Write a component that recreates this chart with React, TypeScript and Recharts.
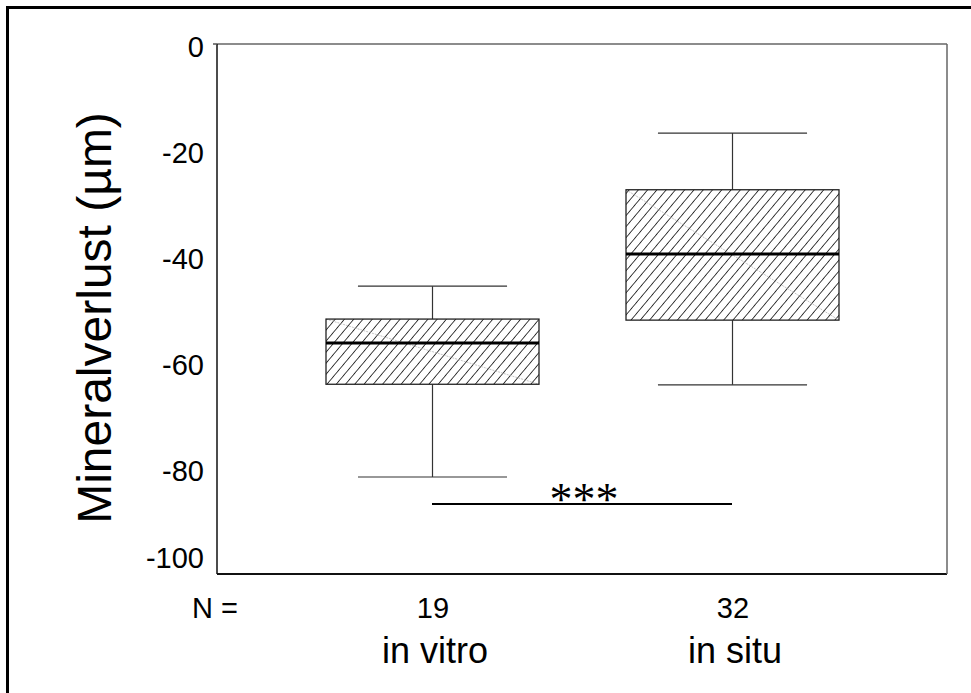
import React from 'react';
import {
  ComposedChart,
  Bar,
  XAxis,
  YAxis,
  ReferenceLine,
} from 'recharts';

// Box plot values (µm)
const categories = ['in vitro', 'in situ'];
const nCounts = [19, 32];
const whiskerLow = [-81.7, -64.3];
const quartile1 = [-64.2, -52.1];
const medians = [-56.4, -39.6];
const quartile3 = [-51.9, -27.5];
const whiskerHigh = [-45.7, -16.8];
const yTicks = [0, -20, -40, -60, -80, -100];
const sigLevel = -86.8;
const sigLabel = '***';

const chartData = categories.map((name, i) => ({
  name,
  n: nCounts[i],
  low: whiskerLow[i],
  q1: quartile1[i],
  median: medians[i],
  q3: quartile3[i],
  high: whiskerHigh[i],
  range: [whiskerLow[i], whiskerHigh[i]],
}));

const FONT = '"Liberation Sans", Arial, sans-serif';

const BoxShape = (props: any) => {
  const { x, y, width, height, payload, index } = props;
  const top = Math.min(y, y + height);
  const bot = Math.max(y, y + height);
  const { low, high, q1, q3, median } = payload;
  // map a value into the pixel span the bar got from the y scale
  const toY = (v: number) => top + ((high - v) / (high - low)) * (bot - top);
  const cx = x + width / 2;
  const capW = width * 0.7;
  const boxTop = toY(q3);
  const boxBot = toY(q1);
  const pid = `hatch-${index}`;
  return (
    <g>
      <defs>
        <pattern id={pid} width={7.1} height={7.1} patternUnits="userSpaceOnUse" patternTransform="rotate(40)">
          <line x1={0} y1={0} x2={0} y2={7.1} stroke="#222" strokeWidth={1.7} />
        </pattern>
      </defs>
      {/* whiskers */}
      <line x1={cx} y1={toY(high)} x2={cx} y2={boxTop} stroke="#333" strokeWidth={1.2} />
      <line x1={cx} y1={boxBot} x2={cx} y2={toY(low)} stroke="#333" strokeWidth={1.2} />
      <line x1={cx - capW / 2} y1={toY(high)} x2={cx + capW / 2} y2={toY(high)} stroke="#333" strokeWidth={1.2} />
      <line x1={cx - capW / 2} y1={toY(low)} x2={cx + capW / 2} y2={toY(low)} stroke="#333" strokeWidth={1.2} />
      {/* box */}
      <rect x={x} y={boxTop} width={width} height={boxBot - boxTop} fill="#fff" />
      <rect x={x} y={boxTop} width={width} height={boxBot - boxTop} fill={`url(#${pid})`} />
      <line x1={x} y1={boxTop} x2={x + width} y2={boxBot} stroke="#aaa" strokeWidth={0.7} strokeDasharray="2 1" />
      <rect x={x} y={boxTop} width={width} height={boxBot - boxTop} fill="none" stroke="#222" strokeWidth={1.3} />
      <line x1={x} y1={toY(median)} x2={x + width} y2={toY(median)} stroke="#000" strokeWidth={3} />
    </g>
  );
};

const YTick = (props: any) => {
  const { x, y, payload } = props;
  const v = payload.value;
  // bottom label is lifted so it stays above the axis end
  const baseY = v === -100 ? y - 6 : y + 13;
  return (
    <g>
      {v === 0 && <line x1={x - 4} y1={y} x2={x} y2={y} stroke="#555" strokeWidth={1.5} />}
      <text x={x - 13} y={baseY} textAnchor="end" fontFamily={FONT} fontSize={29} fill="#000">
        {v}
      </text>
    </g>
  );
};

const XTick = (props: any) => {
  const { x, y, payload, index } = props;
  return (
    <g>
      <text x={x + 1} y={y + 44} textAnchor="middle" fontFamily={FONT} fontSize={29} fill="#000">
        {nCounts[index]}
      </text>
      <text x={x + 3} y={y + 89} textAnchor="middle" fontFamily={FONT} fontSize={36} fill="#000">
        {payload.value}
      </text>
    </g>
  );
};

const App: React.FC = () => {
  return (
    <div style={{ position: 'absolute', left: 0, top: 0, width: 971, height: 693, overflow: 'hidden', background: '#fff' }}>
      <div
        style={{
          position: 'absolute',
          left: 6,
          top: 6,
          width: 1000,
          height: 720,
          borderLeft: '3px solid #000',
          borderTop: '3px solid #000',
        }}
      />
      <div style={{ position: 'absolute', left: 0, top: 0 }}>
        <ComposedChart
          width={971}
          height={693}
          data={chartData}
          margin={{ top: 43, right: 23, bottom: 0, left: 0 }}
        >
          <XAxis
            dataKey="name"
            type="category"
            padding={{ left: 65, right: 65 }}
            height={119}
            axisLine={{ stroke: '#111', strokeWidth: 2 }}
            tickLine={false}
            tickSize={0}
            tickMargin={0}
            tick={<XTick />}
            interval={0}
            label={{
              content: (p: any) => (
                <text
                  x={p.viewBox.x - 2}
                  y={p.viewBox.y + 44}
                  textAnchor="middle"
                  fontFamily={FONT}
                  fontSize={29}
                  fill="#000"
                >
                  N =
                </text>
              ),
            }}
          />
          {/* gray top and right frame lines */}
          <XAxis
            xAxisId="top"
            orientation="top"
            dataKey="name"
            height={1}
            tick={false}
            tickLine={false}
            axisLine={{ stroke: '#666', strokeWidth: 1.5 }}
          />
          <YAxis
            type="number"
            domain={[-100, 0]}
            ticks={yTicks}
            width={217}
            axisLine={{ stroke: '#111', strokeWidth: 1.5 }}
            tickLine={false}
            tickSize={0}
            tickMargin={0}
            tick={<YTick />}
            interval={0}
            label={{
              content: (p: any) => {
                const cy = p.viewBox.y + p.viewBox.height / 2 + 9;
                return (
                  <text
                    x={111}
                    y={cy}
                    transform={`rotate(-90, 111, ${cy})`}
                    textAnchor="middle"
                    fontFamily={FONT}
                    fontSize={48}
                    fill="#000"
                  >
                    Mineralverlust (µm)
                  </text>
                );
              },
            }}
          />
          <YAxis
            yAxisId="right"
            orientation="right"
            type="number"
            domain={[-100, 0]}
            width={1}
            tick={false}
            tickLine={false}
            axisLine={{ stroke: '#666', strokeWidth: 1.5 }}
          />
          <Bar dataKey="range" barSize={213} shape={<BoxShape />} isAnimationActive={false} />
          <ReferenceLine
            segment={[
              { x: categories[0], y: sigLevel },
              { x: categories[1], y: sigLevel },
            ]}
            stroke="#000"
            strokeWidth={2}
            label={{
              content: (p: any) => {
                const vb = p.viewBox;
                return (
                  <text
                    x={vb.x + vb.width / 2 + 2}
                    y={vb.y + 11}
                    textAnchor="middle"
                    fontFamily='"Liberation Serif", "Times New Roman", serif'
                    fontSize={46}
                    fill="#000"
                  >
                    {sigLabel}
                  </text>
                );
              },
            }}
          />
        </ComposedChart>
      </div>
    </div>
  );
};

export default App;
